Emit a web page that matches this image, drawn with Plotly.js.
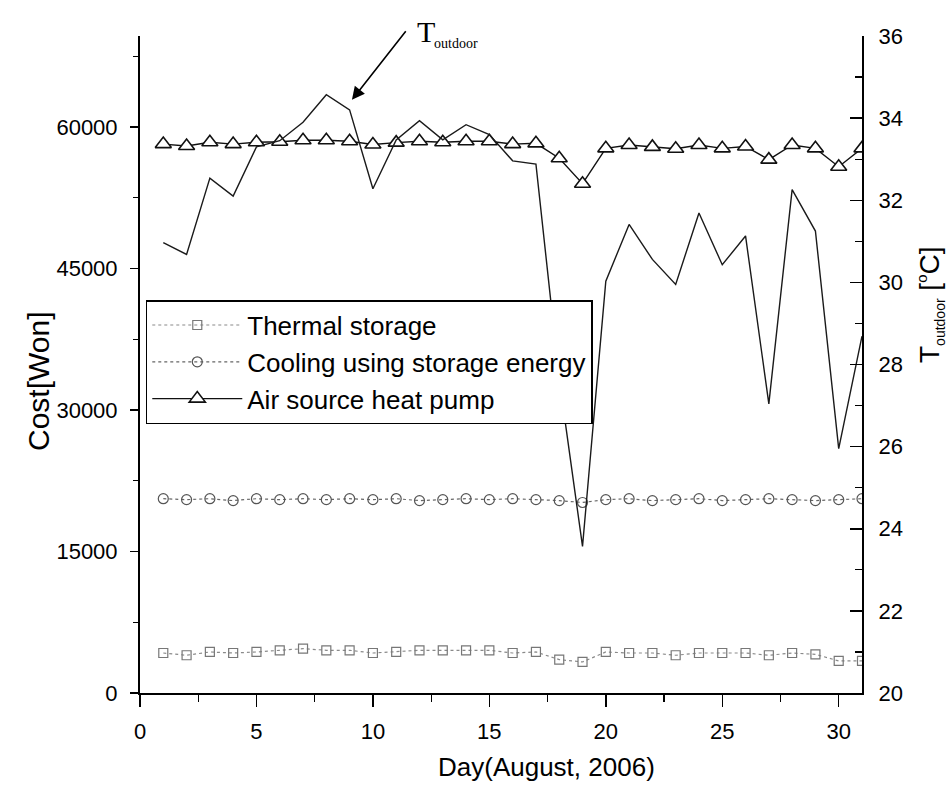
<!DOCTYPE html>
<html>
<head>
<meta charset="utf-8">
<script src="https://cdn.plot.ly/plotly-3.0.1.min.js"></script>
<style>
  html, body { margin: 0; padding: 0; background: #fff; }
  #chart { width: 948px; height: 787px; }
</style>
</head>
<body>
<div id="chart"></div>
<script>
// Daily cooling cost of three systems and outdoor temperature, August 2006
const days = [1, 2, 3, 4, 5, 6, 7, 8, 9, 10, 11, 12, 13, 14, 15, 16,
              17, 18, 19, 20, 21, 22, 23, 24, 25, 26, 27, 28, 29, 30, 31];

// Cost [Won]
const thermalStorage = [4240, 4000, 4350, 4240, 4350, 4530, 4700, 4530, 4530, 4240, 4350,
                        4530, 4530, 4530, 4530, 4240, 4350, 3540, 3290, 4350, 4240, 4240,
                        4000, 4240, 4240, 4240, 4000, 4240, 4100, 3400, 3400];
const coolingStorage = [20600, 20500, 20600, 20400, 20600, 20500, 20600, 20500, 20600, 20500,
                        20600, 20400, 20500, 20600, 20500, 20600, 20500, 20400, 20200, 20500,
                        20600, 20400, 20500, 20600, 20400, 20500, 20600, 20500, 20400, 20500, 20600];
const airSourceHP = [58200, 58000, 58400, 58200, 58400, 58450, 58600, 58600, 58500, 58150,
                     58350, 58500, 58400, 58500, 58500, 58200, 58280, 56700, 54000, 57750,
                     58100, 57900, 57700, 58100, 57750, 57950, 56550, 58100, 57750, 55800, 57750];

// Outdoor temperature [°C]
const tempOutdoor = [30.97, 30.68, 32.54, 32.10, 33.30, 33.45, 33.90, 34.57, 34.20, 32.28,
                     33.47, 33.94, 33.47, 33.84, 33.60, 32.96, 32.88, 27.65, 23.57, 30.03,
                     31.41, 30.56, 29.95, 31.69, 30.43, 31.13, 27.04, 32.26, 31.25, 25.95, 28.69];

const seriesNames = ['Thermal storage', 'Cooling using storage energy', 'Air source heat pump'];

const sans = 'Arial, "Liberation Sans", sans-serif';
const serif = '"Times New Roman", "Liberation Serif", serif';

// plot-area geometry in pixels, used to place free text in paper units
const W = 948, H = 787, M = { l: 140, r: 86, t: 36, b: 94 };
const plotW = W - M.l - M.r, plotH = H - M.t - M.b;
const px = (x) => (x - M.l) / plotW;
const py = (y) => (H - M.b - y) / plotH;

const traces = [
  {
    x: days, y: thermalStorage, name: seriesNames[0], type: 'scatter', mode: 'lines+markers',
    line: { color: '#8a8a8a', width: 1.2, dash: 'dot' },
    marker: { symbol: 'square-open', size: 9, color: '#777', line: { width: 1.2 } }
  },
  {
    x: days, y: coolingStorage, name: seriesNames[1], type: 'scatter', mode: 'lines+markers',
    line: { color: '#666', width: 1.2, dash: 'dot' },
    marker: { symbol: 'circle-open', size: 10, color: '#555', line: { width: 1.2 } }
  },
  {
    x: days, y: airSourceHP, name: seriesNames[2], type: 'scatter', mode: 'lines+markers',
    line: { color: '#111', width: 1.4 },
    marker: { symbol: 'triangle-up', size: 14, color: '#fff', line: { color: '#111', width: 1.6 } }
  },
  {
    x: days, y: tempOutdoor, name: 'T outdoor', yaxis: 'y2', type: 'scatter', mode: 'lines',
    line: { color: '#1a1a1a', width: 1.4 }, showlegend: false
  }
];

const layout = {
  width: W, height: H,
  margin: M,
  paper_bgcolor: '#fff', plot_bgcolor: 'rgba(0,0,0,0)',
  font: { family: sans, color: '#000', size: 22 },
  showlegend: true,
  legend: {
    x: 0.008, y: 0.598, xanchor: 'left', yanchor: 'top',
    bgcolor: '#fff', bordercolor: '#000', borderwidth: 1.5,
    font: { family: sans, size: 26, color: '#000' },
    itemwidth: 90
  },
  xaxis: {
    range: [0, 31], showgrid: false, zeroline: false,
    showline: true, linecolor: '#000', linewidth: 2,
    ticks: 'outside', ticklen: 12, tickwidth: 1.5, tickcolor: '#000',
    tick0: 0, dtick: 5, ticklabelstandoff: 6,
    minor: { dtick: 2.5, ticks: 'outside', ticklen: 7, tickwidth: 1.2, tickcolor: '#000' },
    tickfont: { family: sans, size: 22 }
  },
  yaxis: {
    range: [0, 69660], showgrid: false, zeroline: false,
    showline: true, linecolor: '#000', linewidth: 2,
    ticks: 'outside', ticklen: 8, tickwidth: 1.5, tickcolor: '#000',
    tick0: 0, dtick: 15000, tickformat: 'd', ticklabelstandoff: 8,
    minor: { dtick: 7500, ticks: 'outside', ticklen: 5, tickwidth: 1.2, tickcolor: '#000' },
    tickfont: { family: sans, size: 22 }
  },
  yaxis2: {
    overlaying: 'y', side: 'right', anchor: 'x',
    range: [20, 36], showgrid: false, zeroline: false,
    showline: true, linecolor: '#000', linewidth: 2,
    ticks: 'inside', ticklen: 12, tickwidth: 1.5, tickcolor: '#000',
    tick0: 20, dtick: 2, ticklabelstandoff: 10,
    minor: { dtick: 1, ticks: 'inside', ticklen: 7, tickwidth: 1.2, tickcolor: '#000' },
    tickfont: { family: sans, size: 22 }
  },
  annotations: [
    // axis titles
    {
      xref: 'paper', yref: 'paper', x: px(546), y: py(767), xanchor: 'center', yanchor: 'middle',
      showarrow: false, text: 'Day(August, 2006)', font: { family: sans, size: 26 }
    },
    {
      xref: 'paper', yref: 'paper', x: px(38), y: py(381), xanchor: 'center', yanchor: 'middle',
      showarrow: false, textangle: -90, text: 'Cost[Won]', font: { family: sans, size: 30 }
    },
    {
      xref: 'paper', yref: 'paper', x: px(930), y: py(305), xanchor: 'center', yanchor: 'middle',
      showarrow: false, textangle: -90,
      text: 'T<sub><span style="font-size:14px">outdoor</span></sub> [<sup><span style="font-size:15px">o</span></sup>C]',
      font: { family: sans, size: 28 }
    },
    // arrow pointing at the outdoor-temperature curve
    {
      xref: 'x', yref: 'y', x: 9.1, y: 62900, text: '', showarrow: true,
      ax: 55, ay: -70, arrowhead: 2, arrowsize: 1.6, arrowwidth: 1.6, arrowcolor: '#000'
    },
    {
      xref: 'paper', yref: 'paper', x: px(415), y: py(13),
      xanchor: 'left', yanchor: 'top', showarrow: false,
      text: 'T', font: { family: serif, size: 30, color: '#000' }
    },
    {
      xref: 'paper', yref: 'paper', x: px(432), y: py(34),
      xanchor: 'left', yanchor: 'top', showarrow: false,
      text: 'outdoor', font: { family: serif, size: 14, color: '#000' }
    }
  ]
};

Plotly.newPlot('chart', traces, layout, { displayModeBar: false, staticPlot: true });
</script>
</body>
</html>
